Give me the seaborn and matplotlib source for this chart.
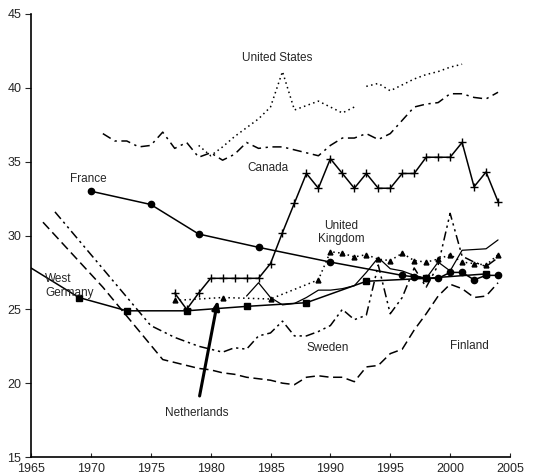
import matplotlib
matplotlib.use("Agg")
import matplotlib.pyplot as plt
import seaborn as sns

sns.set_style("ticks")
plt.rcParams["font.family"] = ["Liberation Sans", "DejaVu Sans"]

# ----------------------------------------------------------
# Data (Gini, %)
# ----------------------------------------------------------
us_years_a = list(range(1979, 1993))
us_gini_a = [36.1, 35.4, 36.0, 36.7, 37.3, 37.9, 38.7, 41.1, 38.5, 38.8, 39.1, 38.7, 38.3, 38.7]
us_years_b = list(range(1993, 2002))
us_gini_b = [40.1, 40.3, 39.8, 40.2, 40.6, 40.9, 41.1, 41.4, 41.6]

canada_years = list(range(1971, 2005))
canada_gini = [36.9, 36.4, 36.4, 36.0, 36.1, 37.0, 35.9, 36.3, 35.3, 35.6,
               35.1, 35.5, 36.3, 35.9, 36.0, 36.0, 35.8, 35.6, 35.4, 36.1,
               36.6, 36.6, 36.9, 36.5, 36.9, 37.8, 38.7, 38.9, 39.0, 39.6,
               39.6, 39.35, 39.25, 39.7]

uk_years = list(range(1977, 2005))
uk_gini = [26.1, 25.0, 26.1, 27.1, 27.1, 27.1, 27.1, 27.1, 28.1, 30.2,
           32.2, 34.2, 33.2, 35.2, 34.2, 33.2, 34.2, 33.2, 33.2, 34.2,
           34.2, 35.3, 35.3, 35.3, 36.3, 33.3, 34.3, 32.3]

france_years = [1970, 1975, 1979, 1984, 1990] + list(range(1996, 2005))
france_gini = [33.0, 32.1, 30.1, 29.2, 28.2, 27.3, 27.2, 27.1, 27.1, 27.5, 27.5, 27.0, 27.3, 27.3]

wg_years = [1962, 1969, 1973, 1978, 1983, 1988, 1993, 1998, 2003]
wg_gini = [29.3, 25.8, 24.9, 24.9, 25.2, 25.45, 26.9, 27.1, 27.4]

wg2_years = list(range(1983, 2005))
wg2_gini = [25.9, 26.8, 25.8, 25.3, 25.4, 25.8, 26.3, 26.3, 26.4, 26.6, 27.5,
            28.5, 27.75, 27.6, 27.3, 27.1, 28.2, 27.6, 29.0, 29.05, 29.1, 29.7]

nl_years = [1977, 1981, 1985, 1989] + list(range(1990, 2005))
nl_gini = [25.6, 25.8, 25.7, 27.0, 28.9, 28.8, 28.55, 28.7, 28.4, 28.3,
           28.8, 28.3, 28.2, 28.4, 28.7, 28.2, 28.1, 28.0, 28.7]

sweden_years = [1967, 1975] + list(range(1976, 2005))
sweden_gini = [31.6, 23.9, 23.5, 23.1, 22.8, 22.5, 22.3, 22.1, 22.4, 22.3,
               23.2, 23.4, 24.2, 23.2, 23.2, 23.5, 23.9, 25.0, 24.3, 24.6,
               28.0, 24.7, 25.8, 27.8, 26.5, 28.0, 31.5, 28.6, 28.2, 27.9, 28.5]

finland_years = [1966, 1971, 1976] + list(range(1977, 2005))
finland_gini = [30.9, 26.5, 21.6, 21.4, 21.2, 21.0, 20.9, 20.7, 20.6, 20.4,
                20.3, 20.2, 20.0, 19.9, 20.4, 20.5, 20.4, 20.4, 20.1, 21.1,
                21.2, 22.0, 22.3, 23.6, 24.7, 25.9, 26.7, 26.4, 25.8, 25.9, 26.8]

x_ticks = [1965, 1970, 1975, 1980, 1985, 1990, 1995, 2000, 2005]
y_ticks = [15, 20, 25, 30, 35, 40, 45]

# ----------------------------------------------------------
# Figure
# ----------------------------------------------------------
fig = plt.figure(figsize=(5.51, 4.75), dpi=100)
ax = fig.add_axes([31 / 551, 18 / 475, 479 / 551, 443 / 475])


def draw(x, y, ls, marker=None, ms=5, lw=1.1, mfc="black"):
    sns.lineplot(x=x, y=y, ax=ax, color="black", linestyle=ls, lw=lw,
                 marker=marker, markersize=ms, mec="black", mfc=mfc, mew=1.0)


draw(us_years_a, us_gini_a, (0, (1, 2.2)))
draw(us_years_b, us_gini_b, (0, (1, 2.2)))
draw(canada_years, canada_gini, (0, (6, 3, 1.5, 3)))
draw(uk_years, uk_gini, "-", marker="+", ms=5.5)
draw(france_years, france_gini, "-", marker="o", ms=4.5)
draw(wg_years, wg_gini, "-", marker="s", ms=4.5)
draw(wg2_years, wg2_gini, "-", lw=0.9)
draw(nl_years, nl_gini, (0, (1, 2.2)), marker="^", ms=3.5)
draw(sweden_years, sweden_gini, (0, (6, 2.5, 1.5, 2.5, 1.5, 2.5)))
draw(finland_years, finland_gini, (0, (6, 3)))

# Country labels
fs = 8.5
lab = dict(fontsize=fs, ha="center", va="center")
ax.text(1985.6, 42.05, "United States", **lab)
ax.text(1984.8, 34.55, "Canada", **lab)
ax.text(1969.8, 33.85, "France", **lab)
ax.text(1990.9, 30.2, "United\nKingdom", **lab)
ax.text(1966.2, 26.6, "West\nGermany", fontsize=fs, ha="left", va="center")
ax.text(1989.8, 22.35, "Sweden", **lab)
ax.text(2001.6, 22.55, "Finland", **lab)
ax.annotate("Netherlands", xy=(1980.6, 25.6), xytext=(1978.8, 17.95),
            fontsize=fs, ha="center", va="center",
            arrowprops=dict(arrowstyle="-|>,head_length=0.6,head_width=0.25",
                            lw=2.2, color="black", shrinkA=6, shrinkB=0))

ax.set_xlim(1965, 2005)
ax.set_ylim(15, 45)
ax.set_xticks(x_ticks)
ax.set_yticks(y_ticks)
ax.set_xlabel("")
ax.set_ylabel("")
ax.tick_params(axis="x", direction="in", length=3, pad=4, labelsize=9)
ax.tick_params(axis="y", direction="out", length=4, pad=3, labelsize=9)
sns.despine(ax=ax)
for s in ["left", "bottom"]:
    ax.spines[s].set_linewidth(1.2)
    ax.spines[s].set_color("black")

fig.savefig("out.png", dpi=100)
